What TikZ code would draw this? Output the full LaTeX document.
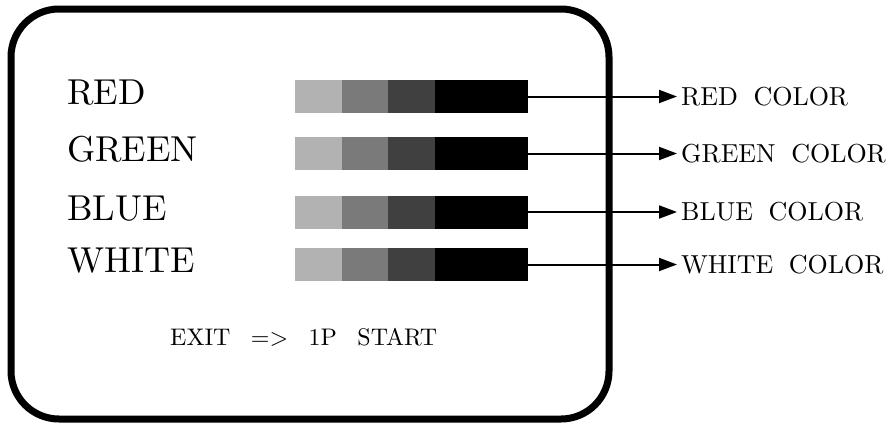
\documentclass[tikz,border=0pt]{standalone}
\usepackage{fontspec}
\setmainfont{lmroman10-regular.otf}
\usepackage{tikz}
\usetikzlibrary{positioning, arrows.meta}

\begin{document}
\begin{tikzpicture}[x=1pt, y=-1pt,
  screen/.style={rectangle, draw, line width=7pt, rounded corners=48pt, minimum width=598pt, minimum height=410pt},
  biglabel/.style={anchor=base west, inner sep=0pt, font=\fontsize{36}{40}\selectfont},
  smalllabel/.style={anchor=west, inner sep=4pt, font=\fontsize{26}{30}\selectfont},
  graybox/.style={rectangle, inner sep=0pt, outer sep=0pt, minimum height=33pt, minimum width=46.7pt},
  conn/.style={-{Triangle[length=18pt, width=13pt]}, line width=2pt}]
  \useasboundingbox (0,0) rectangle (891,423);
  \node[screen] (screen) at (310,214) {};

  \foreach \name/\row/\lbl in {red/96.5/RED, green/153.5/GREEN, blue/212/BLUE, white/264.5/WHITE} {
    \node[biglabel] (\name-label) at (67,\row+8) {\lbl};
    \node[graybox, fill=black!30] (\name-s1) at (318.3,\row) {};
    \node[graybox, fill=black!52, right=0pt of \name-s1] (\name-s2) {};
    \node[graybox, fill=black!75, right=0pt of \name-s2] (\name-s3) {};
    \node[graybox, fill=black, minimum width=93pt, right=0pt of \name-s3] (\name-s4) {};
    \node[smalllabel] (\name-out) at (677,\row) {\lbl\hspace{0.6em}COLOR};
    \draw[conn] (\name-s4) -- (\name-out);
  }

  \node[anchor=base west, inner sep=0pt, font=\fontsize{24}{28}\selectfont] (exit) at (170,345) {EXIT\hspace{0.85em}=>\hspace{0.85em}1P\hspace{0.85em}START};
\end{tikzpicture}
\end{document}
